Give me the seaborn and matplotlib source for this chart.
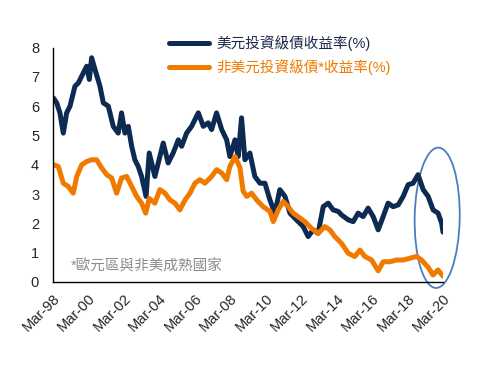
import matplotlib
matplotlib.use("Agg")
import matplotlib.pyplot as plt
from matplotlib.patches import Ellipse
from matplotlib.lines import Line2D
import seaborn as sns
import pandas as pd

# ---- data (decimal years, yield %) ----
usd_t = [1998.19, 1998.38, 1998.56, 1998.75, 1998.94, 1999.13, 1999.41, 1999.60, 1999.88, 2000.07,
         2000.22, 2000.35, 2000.54, 2000.82, 2001.01, 2001.29, 2001.57, 2001.85, 2002.04, 2002.23,
         2002.42, 2002.61, 2002.79, 2002.98, 2003.17, 2003.42, 2003.60, 2003.92, 2004.20, 2004.39,
         2004.67, 2004.95, 2005.24, 2005.43, 2005.71, 2005.99, 2006.37, 2006.65, 2006.93, 2007.12,
         2007.40, 2007.69, 2007.97, 2008.15, 2008.44, 2008.62, 2008.81, 2009.00, 2009.28, 2009.56,
         2009.85, 2010.13, 2010.41, 2010.69, 2010.97, 2011.26, 2011.54, 2011.91, 2012.29, 2012.57,
         2012.85, 2013.13, 2013.42, 2013.70, 2013.98, 2014.26, 2014.45, 2014.83, 2015.11, 2015.39,
         2015.67, 2015.95, 2016.24, 2016.52, 2016.80, 2017.08, 2017.36, 2017.65, 2017.93, 2018.21,
         2018.49, 2018.77, 2019.06, 2019.34, 2019.62, 2019.90, 2020.10, 2020.18]
usd_v = [6.28, 6.11, 5.77, 5.08, 5.77, 6.00, 6.68, 6.79, 7.13, 7.36,
         6.91, 7.65, 7.25, 6.68, 6.11, 6.00, 5.31, 5.08, 5.77, 5.08,
         5.31, 4.63, 4.17, 3.94, 3.60, 2.92, 4.40, 3.60, 4.28, 4.74,
         4.06, 4.40, 4.85, 4.63, 5.08, 5.31, 5.77, 5.31, 5.43, 5.20,
         5.77, 5.20, 4.85, 4.28, 4.85, 4.28, 5.60, 4.17, 4.40, 3.60,
         3.37, 3.37, 2.80, 2.35, 3.15, 2.92, 2.35, 2.12, 1.89, 1.55,
         1.78, 1.66, 2.57, 2.69, 2.46, 2.41, 2.29, 2.12, 2.06, 2.35,
         2.23, 2.52, 2.23, 1.78, 2.23, 2.69, 2.57, 2.63, 2.92, 3.32,
         3.37, 3.66, 3.15, 2.92, 2.46, 2.35, 2.01, 1.70]

nonusd_t = [1998.19, 1998.47, 1998.75, 1999.03, 1999.31, 1999.51, 1999.79, 2000.07, 2000.35, 2000.63,
            2000.92, 2001.20, 2001.48, 2001.76, 2002.04, 2002.33, 2002.61, 2002.89, 2003.17, 2003.40,
            2003.60, 2003.92, 2004.20, 2004.49, 2004.77, 2005.05, 2005.33, 2005.62, 2005.90, 2006.18,
            2006.46, 2006.74, 2007.12, 2007.40, 2007.69, 2007.97, 2008.15, 2008.44, 2008.72, 2008.90,
            2009.10, 2009.38, 2009.66, 2010.03, 2010.41, 2010.60, 2010.88, 2011.16, 2011.44, 2011.72,
            2012.00, 2012.38, 2012.76, 2013.13, 2013.51, 2013.79, 2014.07, 2014.45, 2014.83, 2015.20,
            2015.49, 2015.77, 2016.15, 2016.52, 2016.80, 2017.18, 2017.55, 2017.93, 2018.31, 2018.68,
            2018.97, 2019.34, 2019.62, 2019.90, 2020.18]
nonusd_v = [4.00, 3.94, 3.37, 3.26, 3.03, 3.60, 4.00, 4.11, 4.17, 4.17,
            3.89, 3.66, 3.55, 3.03, 3.55, 3.60, 3.26, 2.92, 2.69, 2.35,
            2.85, 2.69, 3.15, 3.03, 2.80, 2.69, 2.46, 2.80, 3.03, 3.37,
            3.49, 3.37, 3.60, 3.83, 3.72, 3.49, 3.94, 4.28, 3.90, 3.10,
            2.92, 3.03, 2.80, 2.57, 2.41, 2.06, 2.46, 2.75, 2.57, 2.35,
            2.23, 2.06, 1.83, 1.66, 1.89, 1.78, 1.55, 1.32, 0.98, 0.87,
            1.09, 0.87, 0.75, 0.38, 0.69, 0.69, 0.75, 0.75, 0.81, 0.87,
            0.75, 0.50, 0.24, 0.41, 0.20]

series_names = ["美元投資級債收益率(%)", "非美元投資級債*收益率(%)"]
x_tick_pos = [1998.17 + 2 * i for i in range(12)]
x_tick_labels = ["Mar-98", "Mar-00", "Mar-02", "Mar-04", "Mar-06", "Mar-08",
                 "Mar-10", "Mar-12", "Mar-14", "Mar-16", "Mar-18", "Mar-20"]
y_ticks = [0, 1, 2, 3, 4, 5, 6, 7, 8]
note_text = "*歐元區與非美成熟國家"

df = pd.concat([
    pd.DataFrame({"t": usd_t, "v": usd_v, "s": series_names[0]}),
    pd.DataFrame({"t": nonusd_t, "v": nonusd_v, "s": series_names[1]}),
])

sns.set_style("white")
plt.rcParams["font.family"] = ["Liberation Sans", "Noto Sans CJK TC", "DejaVu Sans"]

navy = "#0c2a52"
orange = "#f07a00"

fig = plt.figure(figsize=(4.84, 3.77), dpi=100)
ax = fig.add_axes([0.1095, 0.252, 0.8055, 0.622])

sns.lineplot(data=df, x="t", y="v", hue="s", palette=[navy, orange],
             linewidth=3.6, ax=ax, legend=False, sort=False)

ax.set_xlim(1998.17, 2020.17)
ax.set_ylim(0, 8)
ax.set_xticks(x_tick_pos)
ax.set_xticklabels(x_tick_labels, rotation=45, ha="right", rotation_mode="anchor", fontsize=10.5)
ax.set_yticks(y_ticks)
ax.set_yticklabels([str(v) for v in y_ticks], fontsize=10.5)
ax.set_xlabel("")
ax.set_ylabel("")
ax.tick_params(axis="both", direction="out", length=4, width=1, color="black")
ax.tick_params(axis="y", pad=6)
ax.tick_params(axis="x", pad=3)
for side in ["top", "right"]:
    ax.spines[side].set_visible(False)
for side in ["left", "bottom"]:
    ax.spines[side].set_color("black")
    ax.spines[side].set_linewidth(1)

# legend
handles = [Line2D([], [], color=navy, lw=3.6), Line2D([], [], color=orange, lw=3.6)]
leg = fig.legend(handles, series_names, loc="upper left", bbox_to_anchor=(0.335, 0.925),
                 frameon=False, fontsize=10.5, handlelength=2.7, handletextpad=0.5,
                 labelspacing=0.55, borderpad=0)
leg.get_texts()[0].set_color("#1b2a4a")
leg.get_texts()[1].set_color(orange)

ax.text(0.045, 0.068, note_text, transform=ax.transAxes, fontsize=10.5, color="#8c8c8c",
        ha="left", va="center")

ell = Ellipse((2019.85, 2.19), width=2.54, height=4.79, angle=-2, fill=False,
              edgecolor="#4a7ebb", linewidth=1.3, clip_on=False)
ax.add_patch(ell)

fig.savefig("out.png", dpi=100)
